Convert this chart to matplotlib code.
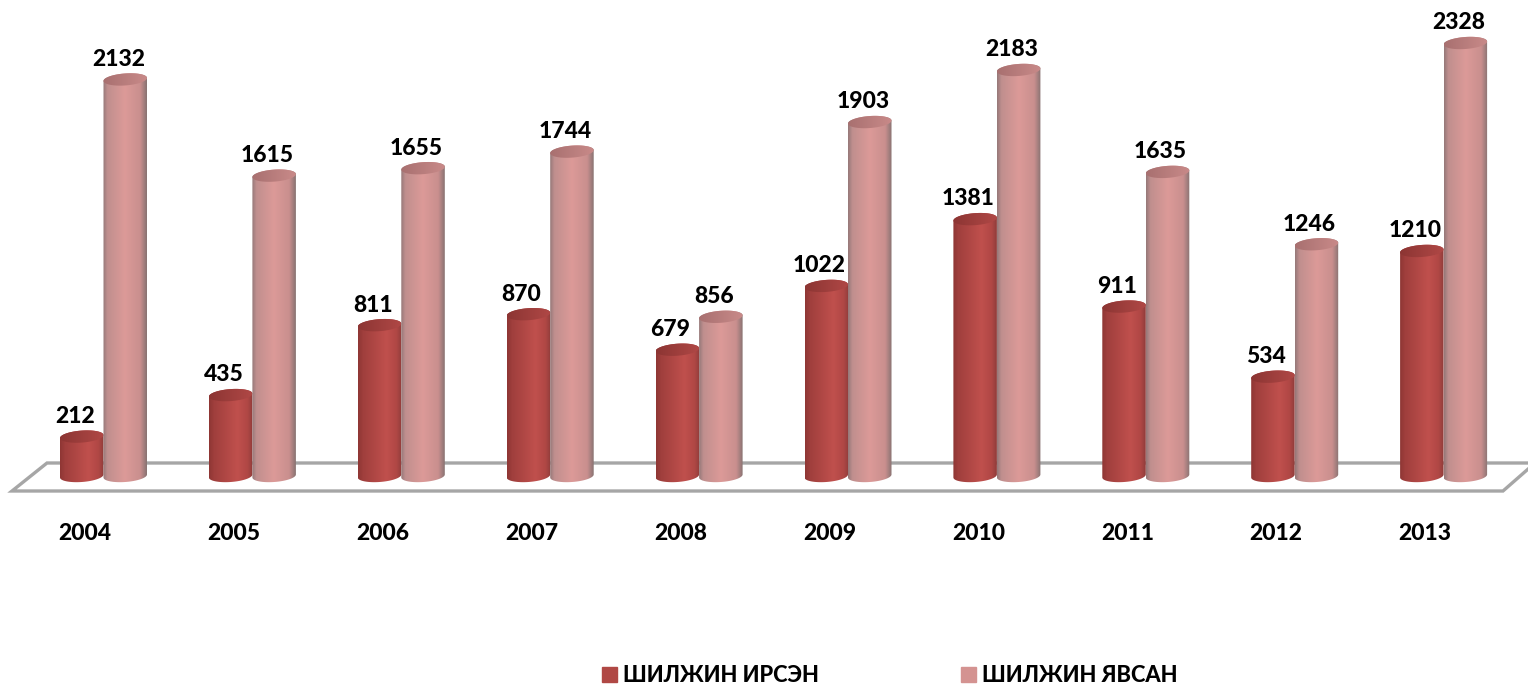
import numpy as np
import matplotlib
matplotlib.use('Agg')
from matplotlib import pyplot as plt
from matplotlib.colors import LinearSegmentedColormap
from matplotlib.patches import Patch
from matplotlib.path import Path

years = ['2004', '2005', '2006', '2007', '2008', '2009', '2010', '2011', '2012', '2013']
arrived = [212, 435, 811, 870, 679, 1022, 1381, 911, 534, 1210]
left = [2132, 1615, 1655, 1744, 856, 1903, 2183, 1635, 1246, 2328]
series_names = ['ШИЛЖИН ИРСЭН', 'ШИЛЖИН ЯВСАН']

plt.rcParams['font.family'] = ['Lato', 'Noto Sans', 'DejaVu Sans']
WEIGHT = 900

W, H = 1528, 686
STEP = 148.9     # px between categories
BASE_PX = 476    # px row of value 0
PER_UNIT = 0.186  # px per value unit
X0_PX = 85       # px column of the first tick

fig = plt.figure(figsize=(W / 100, H / 100), dpi=100)
ax = fig.add_axes([0, 1 - BASE_PX / H, 1, BASE_PX / H])
xlim = (-X0_PX / STEP, (W - X0_PX) / STEP)
ylim = (0, BASE_PX / PER_UNIT)

red_map = LinearSegmentedColormap.from_list('red', [(0, '#8e3634'), (0.12, '#a03f3d'), (0.65, '#c0504d'),
                                                    (0.88, '#b04745'), (1, '#8f3c3a')])
pink_map = LinearSegmentedColormap.from_list('pink', [(0, '#957878'), (0.1, '#c08f8e'), (0.5, '#dc9a98'),
                                                      (0.85, '#c98f8e'), (1, '#877272')])
red_top = LinearSegmentedColormap.from_list('redtop', ['#8c3533', '#b04846'])
pink_top = LinearSegmentedColormap.from_list('pinktop', ['#a87070', '#c98a89'])

BAR_W = 43.5 / STEP
SEMI_H = 6 / PER_UNIT
TILT = 1.5 / PER_UNIT
ramp = np.linspace(0, 1, 256).reshape(1, -1)


def arc(cx, cy, t):
    return np.column_stack([cx + BAR_W / 2 * np.cos(t), cy + SEMI_H * np.sin(t) + TILT * np.cos(t)])


def clipped_ramp(points, extent, cmap, z):
    im = ax.imshow(ramp, cmap=cmap, extent=extent, aspect='auto', zorder=z, interpolation='bilinear')
    im.set_clip_box(fig.bbox)
    im.set_clip_path(Path(np.vstack([points, points[:1]])), ax.transData)


def cylinder(cx, value, body_map, cap_map, z):
    pad = SEMI_H + TILT
    lower = arc(cx, 0, np.linspace(np.pi, 2 * np.pi, 60))
    upper = arc(cx, value, np.linspace(0, np.pi, 60))
    extent = (cx - BAR_W / 2, cx + BAR_W / 2, -pad, value + pad)
    clipped_ramp(np.vstack([lower, upper]), extent, body_map, z)
    clipped_ramp(arc(cx, value, np.linspace(0, 2 * np.pi, 120)), extent, cap_map, z + 0.1)


# floor of the 3d chart, gray outline
def to_x(px):
    return (px - X0_PX) / STEP


def to_y(px):
    return (BASE_PX - px) * 1.0 / PER_UNIT


floor_x = [to_x(p) for p in [1535, 47, 12, 1503, 1535]]
floor_y = [to_y(p) for p in [463, 463, 491, 491, 463]]
ax.plot(floor_x, floor_y, color='#a6a6a6', lw=2.4, clip_on=False, zorder=1, solid_joinstyle='miter')

for i in range(len(years)):
    group_x = i + 18.5 / STEP
    cylinder(group_x - BAR_W / 2, arrived[i], red_map, red_top, 2 + i)
    cylinder(group_x + BAR_W / 2, left[i], pink_map, pink_top, 2.5 + i)
    ax.annotate(str(arrived[i]), (group_x - BAR_W / 2, arrived[i]), xytext=(-5, 14.5), textcoords='offset points',
                ha='center', va='center', fontsize=16.5, fontweight=WEIGHT, color='black', zorder=30)
    ax.annotate(str(left[i]), (group_x + BAR_W / 2, left[i]), xytext=(-5, 14.5), textcoords='offset points',
                ha='center', va='center', fontsize=16.5, fontweight=WEIGHT, color='black', zorder=30)

ax.set_xlim(xlim)
ax.set_ylim(ylim)
ax.set_yticks([])
ax.set_xticks(range(len(years)))
ax.set_xticklabels(years, fontsize=16.5, fontweight=WEIGHT)
ax.tick_params(axis='x', length=0, pad=33.5)
for s in ax.spines.values():
    s.set_visible(False)
ax.patch.set_visible(False)

handles = [Patch(color='#b04845'), Patch(color='#d49391')]
fig.legend(handles, series_names, loc='center', bbox_to_anchor=(890 / W, 1 - 676 / H), ncol=2, frameon=False,
           prop={'size': 15.75, 'weight': WEIGHT}, handlelength=0.66, handleheight=0.66, handletextpad=0.3,
           columnspacing=6.5, borderpad=0, borderaxespad=0)

fig.savefig('out.png', dpi=100)
